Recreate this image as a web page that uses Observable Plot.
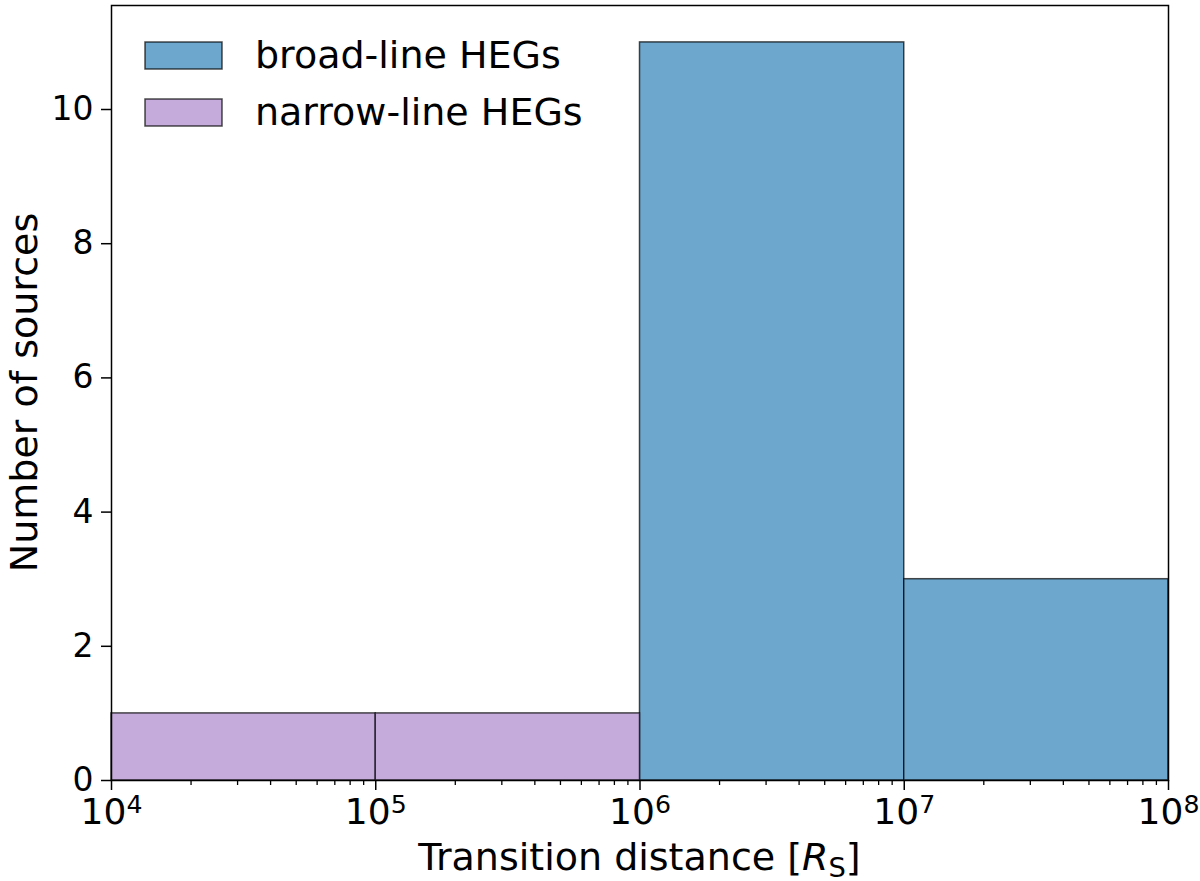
<!DOCTYPE html>
<html><head><meta charset="utf-8">
<script src="https://cdn.jsdelivr.net/npm/d3@7"></script>
<script src="https://cdn.jsdelivr.net/npm/@observablehq/plot@0.6"></script>
<style>body{margin:0;background:#fff} svg{font-family:"DejaVu Sans", sans-serif}</style>
</head><body><div id="chart"></div>
<script>
const binEdges = [1e4, 1e5, 1e6, 1e7, 1e8];
const broadLineCounts = [0, 0, 11, 3];
const narrowLineCounts = [1, 1, 0, 0];
const seriesNames = ["broad-line HEGs", "narrow-line HEGs"];
const seriesColors = ["#6da7ce", "#c4abdb"];
const xTickValues = [1e4, 1e5, 1e6, 1e7, 1e8];
const yTickValues = [0, 2, 4, 6, 8, 10];
const xLabel = ["Transition distance [", "R", "S", "]"];
const yLabel = "Number of sources";

const rows = [];
[broadLineCounts, narrowLineCounts].forEach((counts, s) =>
  counts.forEach((c, i) => { if (c > 0) rows.push({series: seriesNames[s], x1: binEdges[i], x2: binEdges[i + 1], count: c}); }));

const minorTicks = [];
for (let i = 0; i < xTickValues.length - 1; i++)
  for (let m = 2; m < 10; m++) minorTicks.push(m * xTickValues[i]);

const FS = 33, XFS = 36, LFS = 38;
const plot = Plot.plot({
  width: 1200, height: 881,
  marginLeft: 111, marginRight: 32, marginTop: 5, marginBottom: 101,
  style: {fontFamily: '"DejaVu Sans", sans-serif', fontSize: FS + "px", background: "#fff", color: "#000", overflow: "visible"},
  x: {type: "log", domain: [binEdges[0], binEdges[binEdges.length - 1]]},
  y: {domain: [0, 11 * 1.05]},
  color: {domain: seriesNames, range: seriesColors},
  marks: [
    Plot.rectY(rows, {x1: "x1", x2: "x2", y: "count", fill: "series", stroke: "#000", strokeOpacity: 0.7, strokeWidth: 1.5}),
    Plot.axisX({ticks: minorTicks, tickSize: 5, tickFormat: () => "", label: null, strokeWidth: 1.3}),
    Plot.axisX({ticks: xTickValues, tickSize: 10, tickPadding: 8, tickFormat: d => "E" + Math.round(Math.log10(d)), label: null, fontSize: XFS, strokeWidth: 1.5}),
    Plot.axisY({ticks: yTickValues, tickSize: 10, tickPadding: 8, label: null, fontSize: FS, strokeWidth: 1.5}),
    Plot.frame({stroke: "#000", strokeWidth: 1.5})
  ]
});
document.getElementById("chart").appendChild(plot);

const svg = d3.select(plot);
// superscript tick labels 10^n
svg.selectAll("text").each(function() {
  const t = d3.select(this);
  const s = t.text();
  if (/^E\d$/.test(s)) {
    t.text("10");
    t.append("tspan").attr("dy", "-0.42em").attr("font-size", "0.7em").text(s.slice(1));
  }
});

const xs = plot.scale("x").range, ys = plot.scale("y").range;
const cx = (xs[0] + xs[1]) / 2, cy = (ys[0] + ys[1]) / 2;
const xl = svg.append("text").attr("x", cx).attr("y", 870).attr("text-anchor", "middle")
  .attr("font-size", LFS).attr("fill", "#000");
xl.append("tspan").text(xLabel[0]);
xl.append("tspan").attr("font-style", "italic").text(xLabel[1]);
xl.append("tspan").attr("font-size", "0.72em").attr("dy", "0.25em").text(xLabel[2]);
xl.append("tspan").attr("dy", "-0.18em").attr("font-size", LFS).text(xLabel[3]);

svg.append("text").attr("transform", `translate(37,${cy}) rotate(-90)`).attr("text-anchor", "middle")
  .attr("font-size", LFS).attr("fill", "#000").text(yLabel);

// legend
const lg = svg.append("g").attr("text-anchor", "start");
seriesNames.forEach((name, i) => {
  const y0 = 42 + i * 57;
  lg.append("rect").attr("x", 145).attr("y", y0).attr("width", 77).attr("height", 27)
    .attr("fill", seriesColors[i]).attr("stroke", "#000").attr("stroke-opacity", 0.7).attr("stroke-width", 1.5);
  lg.append("text").attr("x", 255).attr("y", y0 + 26).attr("text-anchor", "start")
    .attr("font-size", LFS).attr("fill", "#000").text(name);
});
</script></body></html>
